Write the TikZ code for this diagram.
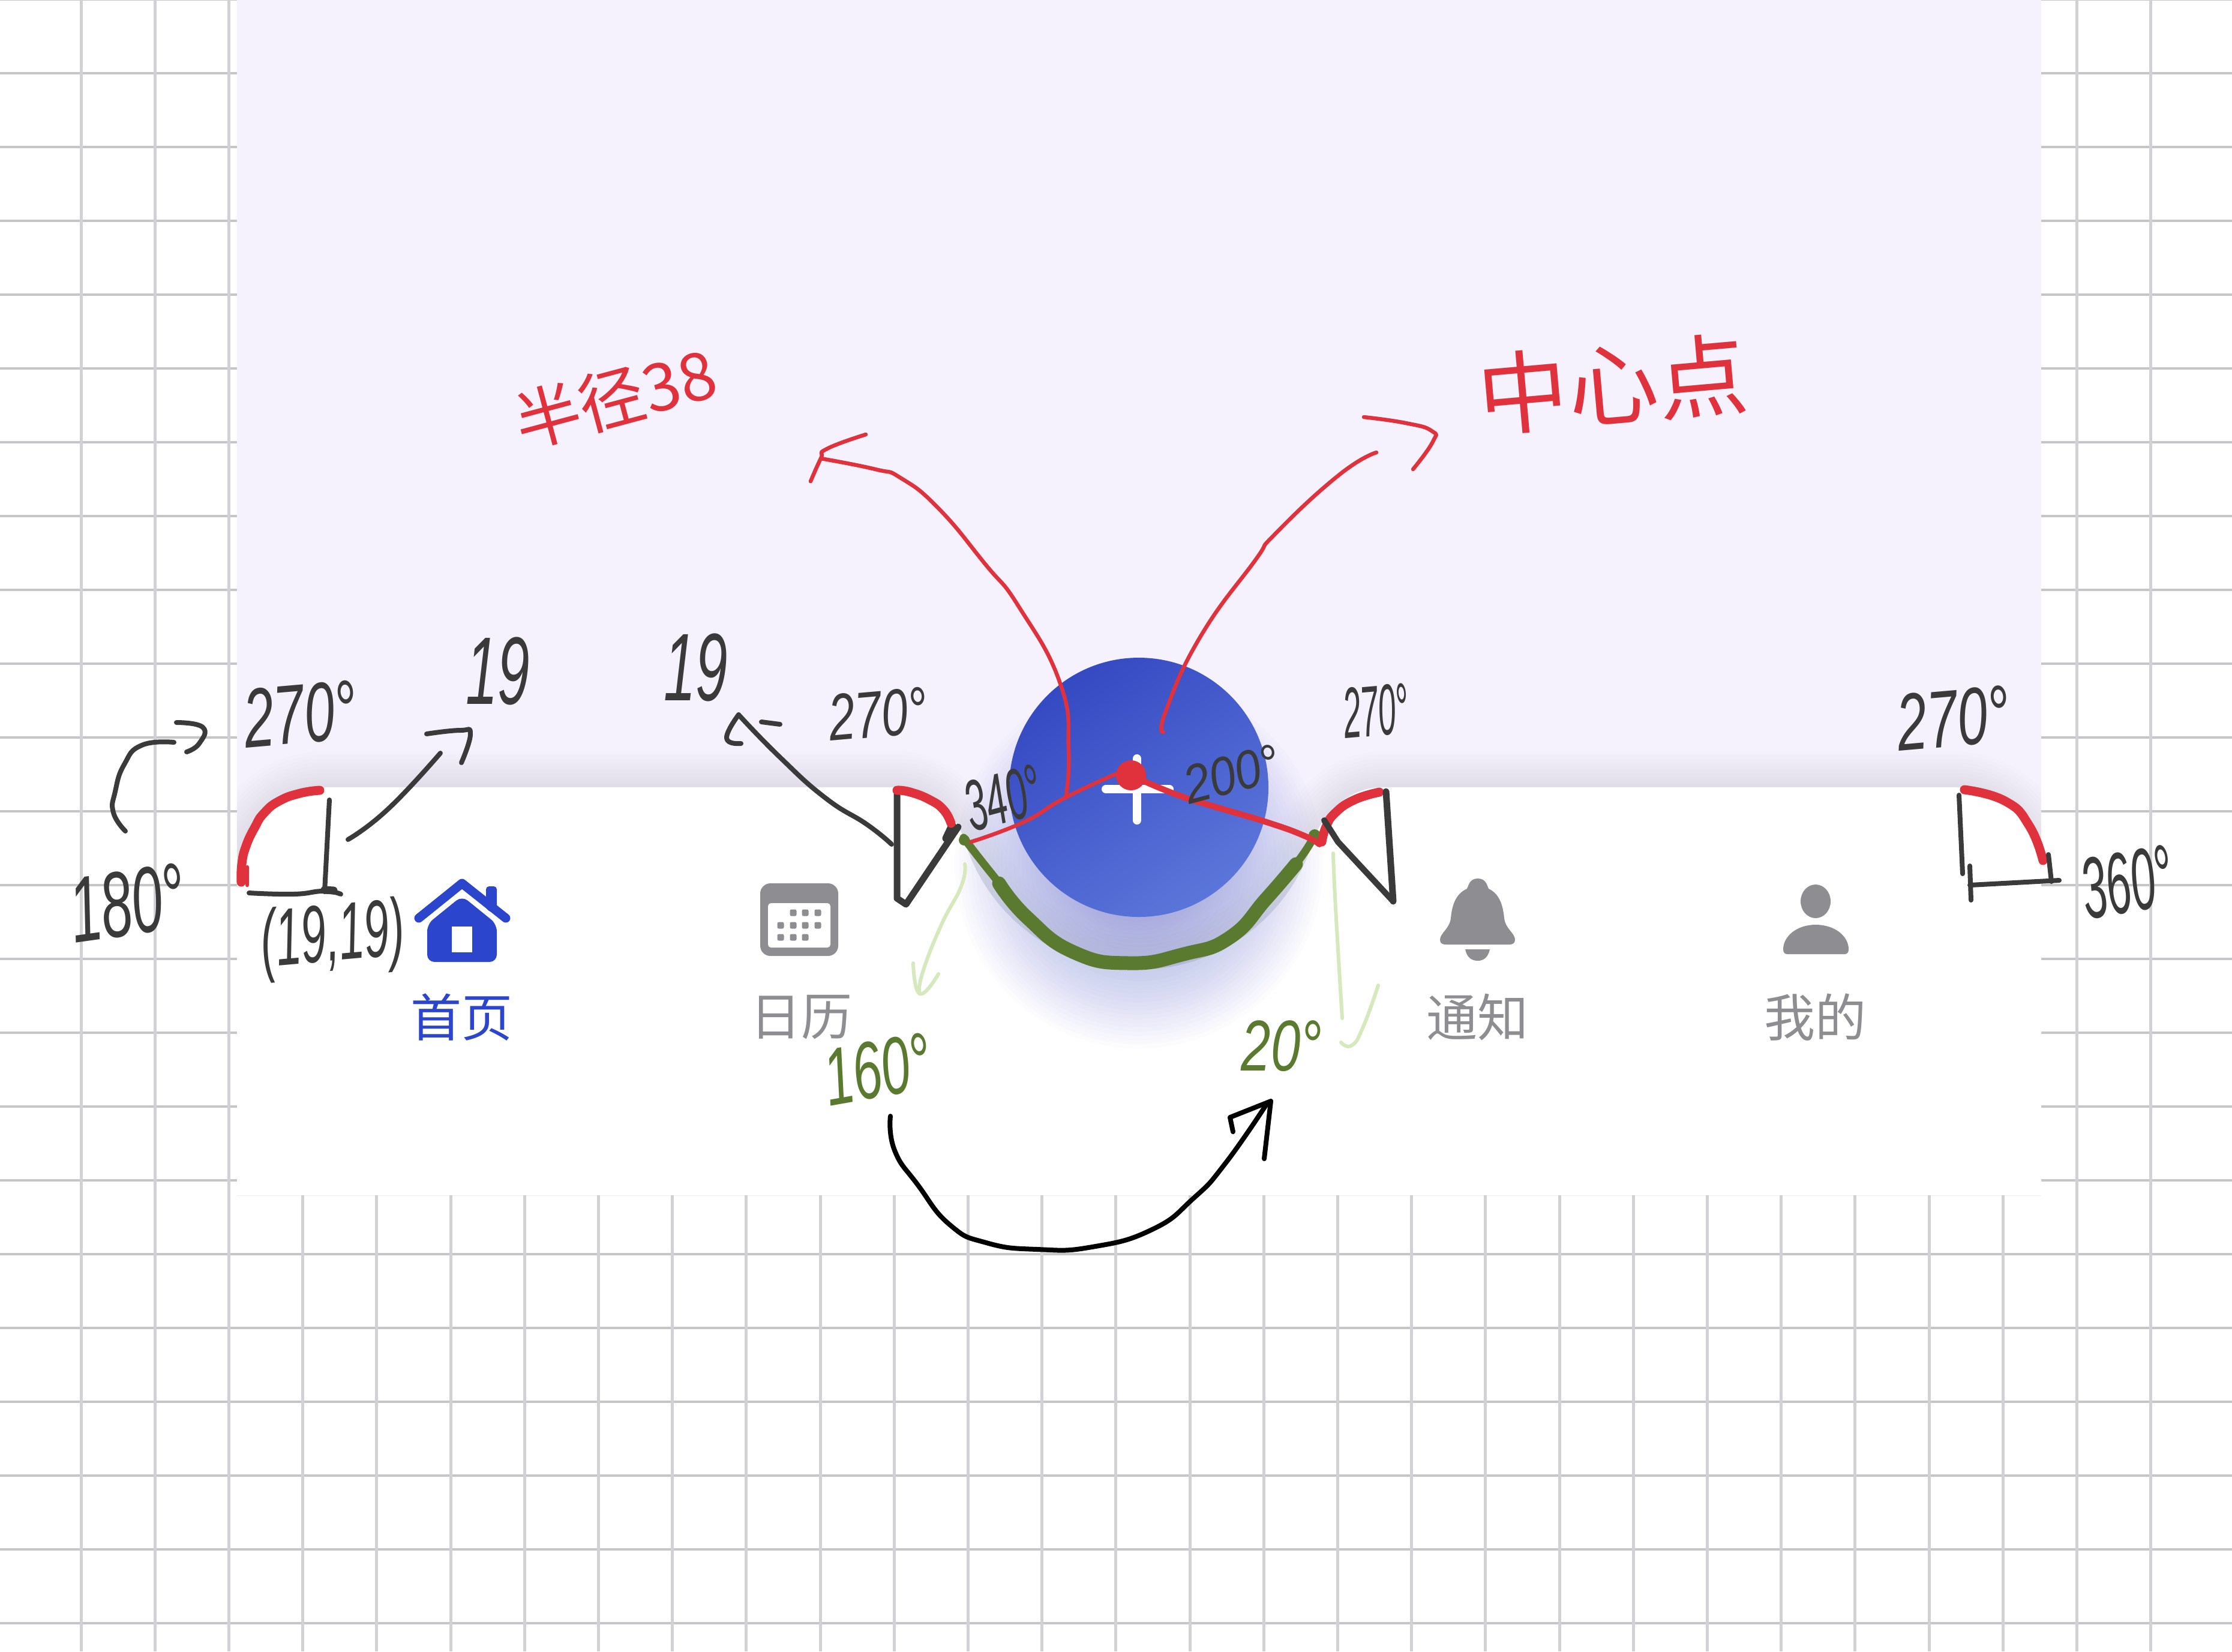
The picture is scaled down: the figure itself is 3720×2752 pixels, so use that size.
\documentclass[tikz,border=0pt]{standalone}
\usepackage{fontspec}
\setmainfont{Liberation Sans}
\newfontfamily\cjk{Noto Sans CJK SC}
\definecolor{gridv}{HTML}{D2D2D6}
\definecolor{gridh}{HTML}{C6C6CA}
\definecolor{lav}{HTML}{F5F2FD}
\definecolor{inkk}{HTML}{3A3A3A}
\definecolor{inkr}{HTML}{E0323C}
\definecolor{inkg}{HTML}{5A7A30}
\definecolor{inkl}{HTML}{D6E9BC}
\definecolor{tabblue}{HTML}{2B46CC}
\definecolor{tabgray}{HTML}{8E8D91}
\definecolor{fabtl}{HTML}{3549C2}
\definecolor{fabbr}{HTML}{5B76DA}
\newcommand{\hw}[3]{\scalebox{#2}[1]{\fontsize{#1}{#1}\selectfont #3}}
\newcommand{\tabpath}{(395,1992) -- (395,1460) .. controls (395,1380) and (460,1312) .. (540,1312) -- (1493,1312) .. controls (1540,1312) and (1585,1345) .. (1606,1396) -- plot[domain=164:16,samples=40] ({1898+304*cos(\x)},{1312+304*sin(\x)}) .. controls (2211,1345) and (2256,1312) .. (2303,1312) -- (3255,1312) .. controls (3335,1312) and (3402,1380) .. (3402,1460) -- (3402,1992) -- cycle}
\tikzset{
  x=0.2pt,y=-0.2pt,
  every plot/.style={tension=0.85},
  stroke/.style={line cap=round,line join=round},
  inkblack/.style={stroke,draw=inkk,line width=1.6pt},
  inkheavy/.style={stroke,draw=inkk,line width=2.6pt},
  inkred/.style={stroke,draw=inkr,line width=1.3pt},
  inkredheavy/.style={stroke,draw=inkr,line width=3pt},
  inkgreen/.style={stroke,draw=inkg,line width=2.4pt},
  inkpale/.style={stroke,draw=inkl,line width=1.2pt},
  hand/.style={inner sep=0pt,text=inkk,font=\itshape},
  handg/.style={hand,text=inkg},
  handr/.style={inner sep=0pt,text=inkr,font=\cjk},
  tablabel/.style={inner sep=0pt,font=\cjk\fontsize{17}{17}\selectfont,text=tabgray},
}
\begin{document}
\begin{tikzpicture}
\useasboundingbox (0,0) rectangle (3720,2752);
\fill[white] (0,0) rectangle (3720,2752);
% grid
\foreach \k in {0,...,22} \draw[gridh,line width=0.8pt] (0,{123*\k-1}) -- (3720,{123*\k-1});
\foreach \k in {0,...,28} \draw[gridv,line width=1pt] ({135+123.2*\k},0) -- ({135+123.2*\k},2752);
% panel
\fill[lav] (395,0) rectangle (3402,1992);
\begin{scope}
\clip (395,0) rectangle (3402,1992);
\foreach \w in {12,24,...,120} \draw[color={rgb,255:red,96;green,104;blue,96},opacity=0.011,line width=\w*0.2pt,line join=round] \tabpath;
\end{scope}
\fill[white] \tabpath;
% halo under the button
\foreach \r in {90,97,...,310} \fill[color={rgb,255:red,79;green,95;blue,221},opacity=0.017] (1898,1440) circle[radius=\r*0.2pt];
% button
\shade[top color=fabtl,bottom color=fabbr,shading angle=35] (1898,1312) circle[radius=43.2pt];
\draw[white,stroke,line width=2.8pt] (1895,1264) -- (1895,1367);
\draw[white,stroke,line width=2.8pt] (1843,1315) -- (1949,1315);
% home icon
\draw[tabblue,stroke,line width=3pt] (698,1530) -- (770,1472) -- (843,1530);
\fill[tabblue,rounded corners=1pt] (810,1515) -- (810,1477) -- (828,1477) -- (828,1525) -- cycle;
\fill[tabblue,rounded corners=2.4pt] (770,1493) -- (828,1540) -- (828,1603) -- (712,1603) -- (712,1540) -- cycle;
\fill[white] (753,1544) rectangle (787,1587);
% calendar icon
\fill[tabgray,rounded corners=3.4pt] (1267,1472) rectangle (1397,1593);
\fill[white,rounded corners=1pt] (1280,1505) rectangle (1384,1579);
\foreach \x/\y in {1322/1521,1342/1521,1363/1521,1301/1542,1322/1542,1342/1542,1363/1542,1301/1562,1322/1562,1342/1562}
  \fill[tabgray,rounded corners=0.5pt] ({\x-5.5},{\y-5.5}) rectangle ({\x+5.5},{\y+5.5});
% bell icon
\fill[tabgray] (2463,1464) .. controls (2450,1464) and (2448,1474) .. (2445,1481) .. controls (2425,1490) and (2420,1510) .. (2418,1530) .. controls (2416,1548) and (2400,1555) .. (2400,1566) .. controls (2400,1572) and (2404,1574) .. (2410,1574) -- (2515,1574) .. controls (2521,1574) and (2525,1572) .. (2525,1566) .. controls (2525,1555) and (2509,1548) .. (2507,1530) .. controls (2505,1510) and (2500,1490) .. (2481,1481) .. controls (2478,1474) and (2476,1464) .. (2463,1464) -- cycle;
\fill[tabgray] (2442,1582) -- (2483,1582) .. controls (2480,1596) and (2472,1601) .. (2463,1601) .. controls (2453,1601) and (2445,1596) .. (2442,1582) -- cycle;
% person icon
\fill[tabgray] (3026,1502) ellipse[x radius=5pt,y radius=5.6pt];
\fill[tabgray] (2972,1582) .. controls (2972,1560) and (2995,1541) .. (3026,1541) .. controls (3058,1541) and (3081,1560) .. (3081,1582) .. controls (3081,1588) and (3078,1590) .. (3074,1590) -- (2979,1590) .. controls (2975,1590) and (2972,1588) .. (2972,1582) -- cycle;
% tab labels
\node[tablabel,text=tabblue] (home) at (769,1695) {首页};
\node[tablabel] (cal) at (1335,1695) {日历};
\node[tablabel] (bell) at (2462,1695) {通知};
\node[tablabel] (me) at (3025,1695) {我的};
% green arc
\draw[inkgreen,line width=2.6pt] plot[smooth] coordinates {(1606,1396) (1652,1455) (1713,1528) (1790,1587) (1882,1605) (1973,1590) (2050,1565) (2111,1499) (2165,1433) (2191,1392)};
\draw[inkgreen,line width=4.6pt] plot[smooth] coordinates {(1665,1472) (1713,1530) (1790,1587) (1882,1605) (1973,1590) (2050,1562) (2111,1497) (2160,1440)};
\fill[inkg] (1607,1400) circle[radius=1.8pt];
\fill[inkg] (2191,1392) circle[radius=2pt];
% pale green pointers
\draw[inkpale] plot[smooth] coordinates {(1608,1440) (1602,1477) (1568,1543) (1537,1623) (1533,1656)};
\draw[inkpale] plot[smooth] coordinates {(1522,1605) (1533,1656) (1564,1623)};
\draw[inkpale] plot[smooth] coordinates {(2222,1422) (2226,1513) (2237,1697)};
\draw[inkpale] plot[smooth] coordinates {(2235,1737) (2253,1742) (2272,1711) (2297,1642)};
% left corner
\draw[inkredheavy] plot[smooth] coordinates {(533,1317) (500,1322) (465,1335) (440,1355) (425,1378) (410,1410) (403,1440) (402,1470)};
\draw[inkred] (412,1445) -- (412,1475);
\draw[inkblack] (549,1333) -- (541,1486);
\draw[inkblack] plot[smooth] coordinates {(415,1488) (489,1490) (539,1485) (568,1490)};
\draw[inkheavy] (541,1483) -- (556,1484);
\draw[inkblack] plot[smooth] coordinates {(209,1385) (189,1354) (192,1319) (207,1274) (236,1242) (290,1237)};
\draw[inkblack] plot[smooth] coordinates {(294,1204) (338,1212) (332,1239) (311,1253)};
\draw[inkblack] plot[smooth] coordinates {(580,1399) (647,1348) (734,1255)};
\draw[inkblack] plot[smooth] coordinates {(711,1223) (767,1217) (784,1223) (769,1271)};
\draw[inkblack] plot[smooth] coordinates {(1486,1407) (1445,1374) (1376,1330) (1300,1262) (1231,1191)};
\draw[inkblack] plot[smooth] coordinates {(1231,1191) (1211,1230) (1235,1239)};
\draw[inkblack] (1269,1203) -- (1300,1207);
% left notch corner
\draw[inkblack,line width=2.2pt] (1495,1320) -- (1495,1497) -- (1510,1507) -- (1597,1378);
\draw[inkheavy] (1577,1397) -- (1587,1376);
\draw[inkredheavy] plot[smooth] coordinates {(1495,1317) (1517,1320) (1550,1333) (1573,1350) (1585,1372)};
% right notch corner
\draw[inkredheavy] plot[smooth] coordinates {(2299,1320) (2257,1333) (2225,1355) (2210,1378) (2203,1403)};
\draw[inkblack,line width=2.2pt] (2310,1319) -- (2322,1502);
\draw[inkblack,line width=2pt] (2207,1367) -- (2230,1403) -- (2322,1502);
% red centre lines
\draw[inkred] plot[smooth] coordinates {(1618,1403) (1706,1370) (1774,1330) (1859,1290)};
\draw[inkred,line width=2pt] plot[smooth] coordinates {(1905,1301) (1966,1326) (2027,1345) (2111,1370) (2172,1392) (2199,1407)};
\fill[inkr] (1885,1292) circle[radius=5pt];
% red arrows
\draw[inkred] plot[smooth] coordinates {(1776,1330) (1781,1249) (1767,1139) (1698,1011) (1642,940) (1565,848) (1502,797) (1459,782) (1368,764)};
\draw[inkred] plot[smooth] coordinates {(1351,802) (1368,764) (1378,748) (1443,724)};
\draw[inkred] plot[smooth] coordinates {(1939,1220) (1943,1185) (2000,1062) (2091,935) (2126,889) (2231,792) (2294,754)};
\draw[inkred] plot[smooth] coordinates {(2273,695) (2343,705) (2386,718) (2388,736) (2355,782)};
% black sweep arrow
\draw[inkblack,draw=black] plot[smooth] coordinates {(1484,1860) (1491,1917) (1530,1975) (1583,2041) (1644,2071) (1729,2082) (1820,2078) (1920,2049) (1989,1997) (2042,1939) (2111,1840)};
\draw[inkblack,draw=black] (2055,1886) -- (2050,1862) -- (2118,1835) -- (2107,1931);
% right corner
\draw[inkredheavy] plot[smooth] coordinates {(3274,1316) (3342,1335) (3382,1376) (3405,1434)};
\draw[inkblack] (3265,1325) -- (3271,1456);
\draw[inkblack] (3283,1443) -- (3285,1500);
\draw[inkblack] (3283,1475) -- (3432,1467);
\draw[inkblack] (3414,1424) -- (3419,1469);
% handwritten labels
\node[hand,rotate=5] (a1) at (500,1190) {\hw{28}{0.65}{270°}};
\node[hand] (b1) at (830,1118) {\hw{32}{0.6}{19}};
\node[hand] (b2) at (1160,1112) {\hw{32}{0.6}{19}};
\node[hand,rotate=8] (c1) at (212,1505) {\hw{31}{0.6}{180°}};
\node[hand,rotate=5] (d1) at (555,1566) {\hw{27}{0.56}{(19,19)}};
\node[hand,rotate=5] (a2) at (1463,1190) {\hw{22}{0.72}{270°}};
\node[hand,rotate=15] (e1) at (1672,1330) {\hw{24}{0.52}{340°}};
\node[hand,rotate=15] (f1) at (2053,1290) {\hw{18}{0.87}{200°}};
\node[hand,rotate=5] (a3) at (2293,1185) {\hw{24}{0.44}{270°}};
\node[hand,rotate=5] (a4) at (3255,1197) {\hw{27}{0.67}{270°}};
\node[hand,rotate=10] (g1) at (3545,1470) {\hw{29}{0.51}{360°}};
\node[handg,rotate=10] (h1) at (1462,1782) {\hw{27}{0.64}{160°}};
\node[handg] (h2) at (2136,1743) {\hw{24}{0.74}{20°}};
\node[handr,rotate=15] (r1) at (1025,663) {\hw{22}{1}{半径38}};
\node[handr,rotate=5] (r2) at (2688,640) {\hw{30}{1}{中心点}};
\end{tikzpicture}
\end{document}
